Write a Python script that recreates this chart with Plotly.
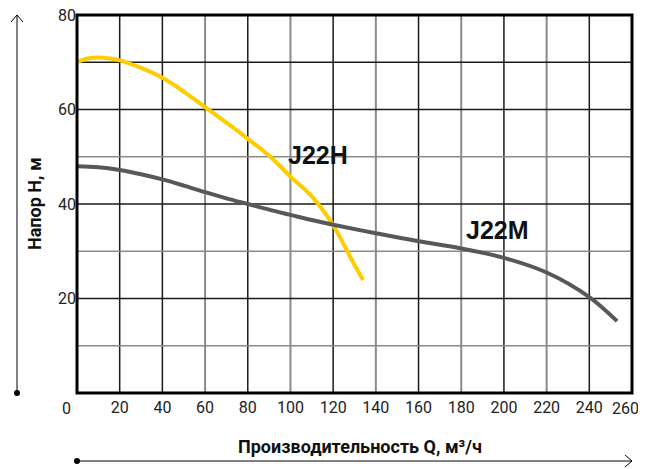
import plotly.graph_objects as go

# Data
q_h = [0, 5, 10, 15, 20, 30, 40, 50, 60, 70, 80, 90, 100, 110, 120, 128, 134]
h_h = [70.0, 70.8, 71.0, 70.8, 70.4, 68.8, 66.7, 63.8, 60.5, 57.2, 53.8, 50.2, 45.8, 41.6, 35.5, 28.8, 23.9]

q_m = [0, 10, 20, 30, 40, 50, 60, 70, 80, 90, 100, 110, 120, 140, 160, 180, 200, 220, 240, 253]
h_m = [48.0, 47.8, 47.2, 46.3, 45.2, 43.9, 42.5, 41.2, 40.0, 38.8, 37.7, 36.6, 35.6, 33.8, 32.1, 30.6, 28.6, 25.5, 20.3, 15.2]

x_ticks = [20, 40, 60, 80, 100, 120, 140, 160, 180, 200, 220, 240, 260]
y_ticks = [20, 40, 60, 80]
x_grid_dark = [20, 40, 80, 120, 160, 200, 240]
x_grid_light = [60, 100, 140, 180, 220]
y_grid_dark = [20, 40, 60, 70]
y_grid_light = [10, 30, 50]

XMAX, YMAX = 260, 80

fig = go.Figure()
fig.add_trace(go.Scatter(x=q_h, y=h_h, mode="lines", line=dict(color="#FFCC00", width=4, shape="spline"),
                         showlegend=False, hoverinfo="skip"))
fig.add_trace(go.Scatter(x=q_m, y=h_m, mode="lines", line=dict(color="#585858", width=4, shape="spline"),
                         showlegend=False, hoverinfo="skip"))

shapes = []
for v in x_grid_dark:
    shapes.append(dict(type="line", xref="x", yref="y", x0=v, x1=v, y0=0, y1=YMAX,
                       line=dict(color="#1a1a1a", width=1.5), layer="below"))
for v in x_grid_light:
    shapes.append(dict(type="line", xref="x", yref="y", x0=v, x1=v, y0=0, y1=YMAX,
                       line=dict(color="#8a8a8a", width=2), layer="below"))
for v in y_grid_dark:
    shapes.append(dict(type="line", xref="x", yref="y", x0=0, x1=XMAX, y0=v, y1=v,
                       line=dict(color="#1a1a1a", width=1.5), layer="below"))
for v in y_grid_light:
    shapes.append(dict(type="line", xref="x", yref="y", x0=0, x1=XMAX, y0=v, y1=v,
                       line=dict(color="#8a8a8a", width=1.5), layer="below"))
shapes.append(dict(type="rect", xref="paper", yref="paper", x0=0, x1=1, y0=0, y1=1,
                   line=dict(color="#000", width=3), layer="above"))

PW, PH = 555.0, 378.0
def px(dx):
    return dx / PW
def py(dy):
    return dy / PH

ax_x = px(17 - 77)
shapes.append(dict(type="line", xref="paper", yref="paper", x0=ax_x, x1=ax_x, y0=0, y1=1,
                   line=dict(color="#000", width=1)))
shapes.append(dict(type="path", xref="paper", yref="paper",
                   path=f"M {ax_x - px(6)} {1 - py(7)} L {ax_x} {1.0} L {ax_x + px(6)} {1 - py(7)}",
                   line=dict(color="#000", width=1)))
shapes.append(dict(type="circle", xref="paper", yref="paper",
                   x0=ax_x - px(3), x1=ax_x + px(3), y0=-py(3), y1=py(3),
                   fillcolor="#000", line=dict(color="#000", width=0)))
ay_y = -py(461 - 393)
shapes.append(dict(type="line", xref="paper", yref="paper", x0=0, x1=1, y0=ay_y, y1=ay_y,
                   line=dict(color="#000", width=1)))
shapes.append(dict(type="path", xref="paper", yref="paper",
                   path=f"M {1 - px(7)} {ay_y + py(6)} L 1 {ay_y} L {1 - px(7)} {ay_y - py(6)}",
                   line=dict(color="#000", width=1)))
shapes.append(dict(type="circle", xref="paper", yref="paper",
                   x0=-px(3), x1=px(3), y0=ay_y - py(3), y1=ay_y + py(3),
                   fillcolor="#000", line=dict(color="#000", width=0)))

def ann(x, y, text, size, family="Roboto", angle=0, xanchor="center", color="#111"):
    return dict(x=x, y=y, xref="paper", yref="paper", text=text, showarrow=False,
                xanchor=xanchor, yanchor="middle", textangle=angle,
                font=dict(family=family, size=size, color=color))

# x tick labels: last one placed as annotation so it is not cut at the right page edge
x_ticktext = [str(v) for v in x_ticks[:-1]] + [""]

annotations = [
    ann(px(318 - 77), py(393 - 155), "<b>J22H</b>", 25, "Liberation Sans, Arial"),
    ann(px(497 - 77), py(393 - 230), "<b>J22M</b>", 25, "Liberation Sans, Arial"),
    ann(px(66 - 77), -py(408 - 393), "0", 16, color="#222"),
    ann(px(641 - 77), -py(408 - 393), str(x_ticks[-1]), 16, xanchor="right", color="#222"),
    ann(px(34 - 77), 0.5, "<b>Напор H, м</b>", 18, angle=-90),
    ann(px(360 - 77), -py(446 - 393), "<b>Производительность Q, м³/ч</b>", 18),
]

# page body has an 8px default margin: compensate so plot area sits at x 77-632, y 15-393
OFF = 8
W, H = 646 - OFF, 469 - OFF
L, T = 77 - OFF, 15 - OFF
fig.update_layout(
    width=W, height=H,
    margin=dict(l=L, r=W - L - 555, t=T, b=H - T - 378, autoexpand=False),
    paper_bgcolor="white", plot_bgcolor="white",
    shapes=shapes, annotations=annotations,
    xaxis=dict(range=[0, XMAX], tickvals=x_ticks, ticktext=x_ticktext, showgrid=False, zeroline=False,
               showline=False, ticks="", tickfont=dict(family="Roboto", size=16, color="#222"),
               fixedrange=True, ticklabeloverflow="allow", automargin=False, ticklabelstandoff=3),
    yaxis=dict(range=[0, YMAX], tickvals=y_ticks, showgrid=False, zeroline=False, showline=False,
               ticks="", tickfont=dict(family="Roboto", size=16, color="#222"), fixedrange=True,
               ticklabeloverflow="allow", automargin=False),
)

fig.write_html("out.html")
